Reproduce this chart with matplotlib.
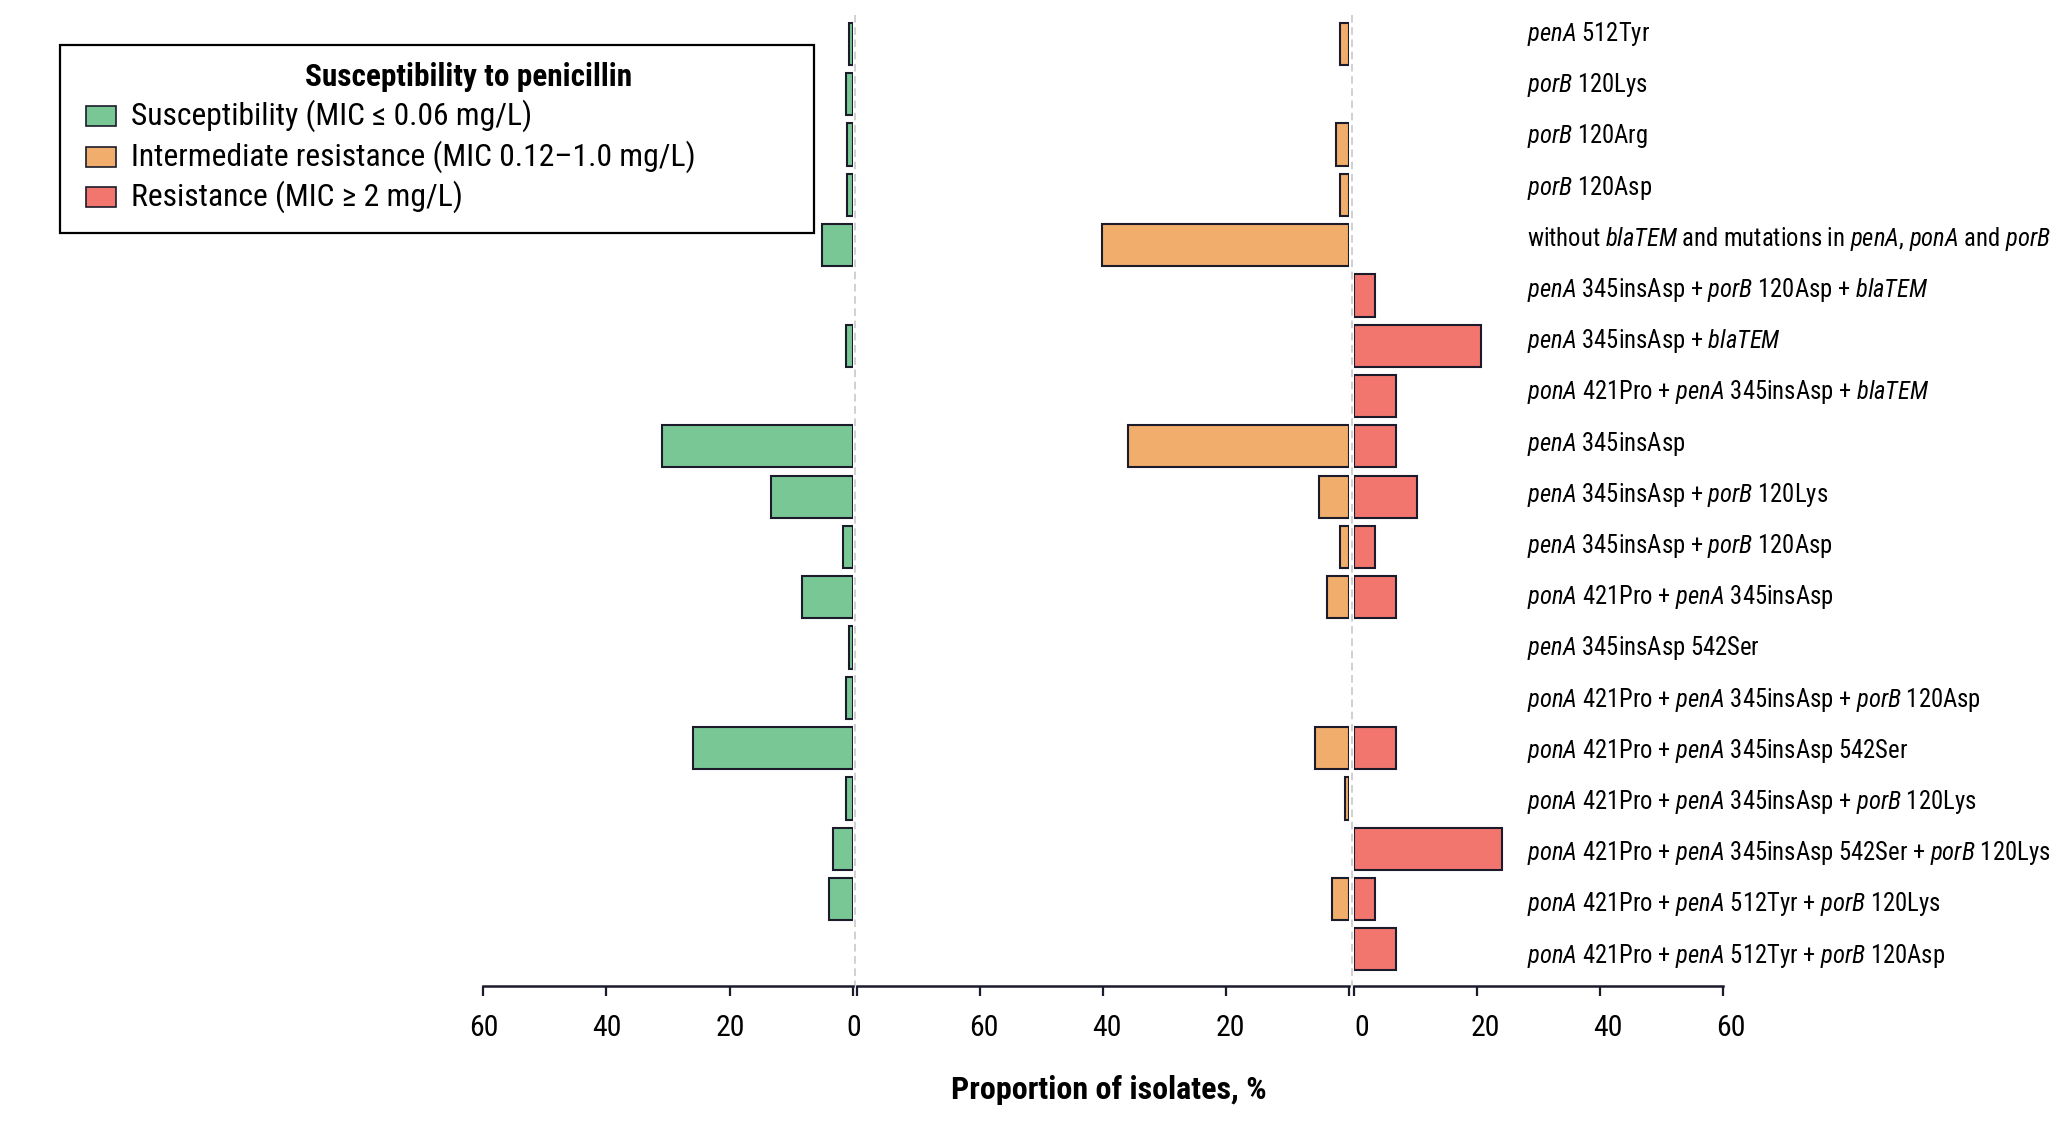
"""Penicillin susceptibility by resistance-determinant profile, three panels."""

import numpy as np
import matplotlib
matplotlib.use("Agg")
import matplotlib.pyplot as plt
from matplotlib import font_manager
from matplotlib.patches import Rectangle
from matplotlib.transforms import ScaledTranslation, blended_transform_factory

# --------------------------------------------------------------------------- #
# Data
# --------------------------------------------------------------------------- #
PROFILES = [
    r"$\mathit{penA}$ 512Tyr",
    r"$\mathit{porB}$ 120Lys",
    r"$\mathit{porB}$ 120Arg",
    r"$\mathit{porB}$ 120Asp",
    r"without $\mathit{blaTEM}$ and mutations in $\mathit{penA}$, $\mathit{ponA}$ and $\mathit{porB}$",
    r"$\mathit{penA}$ 345insAsp + $\mathit{porB}$ 120Asp + $\mathit{blaTEM}$",
    r"$\mathit{penA}$ 345insAsp + $\mathit{blaTEM}$",
    r"$\mathit{ponA}$ 421Pro + $\mathit{penA}$ 345insAsp + $\mathit{blaTEM}$",
    r"$\mathit{penA}$ 345insAsp",
    r"$\mathit{penA}$ 345insAsp + $\mathit{porB}$ 120Lys",
    r"$\mathit{penA}$ 345insAsp + $\mathit{porB}$ 120Asp",
    r"$\mathit{ponA}$ 421Pro + $\mathit{penA}$ 345insAsp",
    r"$\mathit{penA}$ 345insAsp 542Ser",
    r"$\mathit{ponA}$ 421Pro + $\mathit{penA}$ 345insAsp + $\mathit{porB}$ 120Asp",
    r"$\mathit{ponA}$ 421Pro + $\mathit{penA}$ 345insAsp 542Ser",
    r"$\mathit{ponA}$ 421Pro + $\mathit{penA}$ 345insAsp + $\mathit{porB}$ 120Lys",
    r"$\mathit{ponA}$ 421Pro + $\mathit{penA}$ 345insAsp 542Ser + $\mathit{porB}$ 120Lys",
    r"$\mathit{ponA}$ 421Pro + $\mathit{penA}$ 512Tyr + $\mathit{porB}$ 120Lys",
    r"$\mathit{ponA}$ 421Pro + $\mathit{penA}$ 512Tyr + $\mathit{porB}$ 120Asp",
]

# proportion of isolates, %
SUSCEPTIBLE = [0.6, 1.2, 0.9, 0.9, 5.0, 0, 1.2, 0, 30.9, 13.3, 1.7, 8.3,
               0.6, 1.2, 26.0, 1.2, 3.3, 3.9, 0]
INTERMEDIATE = [1.4, 0, 2.1, 1.4, 40.1, 0, 0, 0, 35.9, 4.9, 1.4, 3.5,
                0, 0, 5.6, 0.7, 0, 2.8, 0]
RESISTANT = [0, 0, 0, 0, 0, 3.4, 20.7, 6.9, 6.9, 10.3, 3.4, 6.9,
             0, 0, 6.9, 0, 24.1, 3.4, 6.9]

LEGEND_TITLE = "Susceptibility to penicillin"
LEGEND_LABELS = [
    "Susceptibility (MIC \u2264 0.06 mg/L)",
    "Intermediate resistance (MIC 0.12\u20131.0 mg/L)",
    "Resistance (MIC \u2265 2 mg/L)",
]
COLORS = ["#79c794", "#f0ad6b", "#f2756e"]
EDGE = "#1b1b2b"

# --------------------------------------------------------------------------- #
# Fonts: the reference uses a narrow sans; take the narrowest one available
# --------------------------------------------------------------------------- #
entries = font_manager.fontManager.ttflist
names = {f.name for f in entries}
BASE, STRETCH, SCALE = None, "normal", 1.0
for cand in ["Liberation Sans Narrow", "Arial Narrow", "Roboto Condensed",
             "Open Sans Condensed", "Noto Sans Condensed", "DejaVu Sans Condensed"]:
    if cand in names:
        BASE = cand
        break
if BASE is None:
    narrow = sorted(n for n in names if "Narrow" in n or "Condensed" in n)
    if narrow:
        BASE = narrow[0]
if BASE is None:
    cond = [f for f in entries if f.name == "DejaVu Sans"
            and str(f.stretch) in ("condensed", "semi-condensed", "600", "700")]
    if cond:
        BASE, STRETCH, SCALE = "DejaVu Sans", "condensed", 0.95
if BASE is None:
    BASE, SCALE = "Liberation Sans", 0.9

plt.rcParams["font.family"] = [BASE, "DejaVu Sans"]
plt.rcParams["font.stretch"] = STRETCH
plt.rcParams["mathtext.fontset"] = "custom"
suffix = "" if STRETCH == "normal" else ":stretch=" + STRETCH
plt.rcParams["mathtext.rm"] = BASE + suffix
plt.rcParams["mathtext.it"] = BASE + ":italic" + suffix
plt.rcParams["mathtext.bf"] = BASE + ":bold" + suffix

FS_TICK = 21.5 * SCALE
FS_ROW = 17.7 * SCALE
FS_LEG = 22.8 * SCALE
FS_TITLE = 22.5 * SCALE
FS_XLAB = 23 * SCALE

W, H = 2067, 1126
fig = plt.figure(figsize=(W / 100, H / 100), dpi=100)


def fx(px):
    return px / W


def fy(px):
    return (H - px) / H


# --------------------------------------------------------------------------- #
# Panels
# --------------------------------------------------------------------------- #
bottom = fy(986)
height = 1.0 - bottom
ylim = (18.73, -0.875)
rows = np.arange(len(PROFILES))

panels = [
    # (left px, right px, xlim, ticks, tick labels, values, label shift px)
    (483, 853, (60, 0), [60, 40, 20, 0], ["60", "40", "20", "0"], SUSCEPTIBLE, 1),
    (857, 1349, (80, 0), [80, 60, 40, 20, 0], ["", "60", "40", "20", ""], INTERMEDIATE, 4),
    (1354, 1723, (0, 60), [0, 20, 40, 60], ["0", "20", "40", "60"], RESISTANT, 8),
]

axes = []
for left, right, xlim, ticks, tlabels, vals, shift in panels:
    ax = fig.add_axes([fx(left), bottom, fx(right - left), height])
    vals = np.asarray(vals, dtype=float)
    keep = vals > 0
    ax.barh(rows[keep], vals[keep], height=0.84, color=COLORS[len(axes)],
            edgecolor=EDGE, linewidth=1.5, zorder=3)
    ax.set_xlim(*xlim)
    ax.set_ylim(*ylim)
    ax.set_xticks(ticks)
    ax.set_xticklabels(tlabels, fontsize=FS_TICK)
    ax.set_yticks([])
    for s in ("top", "left", "right"):
        ax.spines[s].set_visible(False)
    ax.spines["bottom"].set_bounds(min(ticks), max(ticks))
    ax.spines["bottom"].set_linewidth(1.8)
    ax.spines["bottom"].set_color(EDGE)
    ax.tick_params(axis="x", length=7.5, width=1.6, color=EDGE, pad=13,
                   labelcolor="black")
    for lab in ax.get_xticklabels():
        lab.set_transform(lab.get_transform()
                          + ScaledTranslation(shift / 100, 0, fig.dpi_scale_trans))
    ax.patch.set_alpha(0)
    axes.append(ax)

# dashed zero guides
axes[0].vlines(-0.3, -0.57, ylim[0], colors="#c4c4c4", linestyles=(0, (5, 3)),
               linewidth=1.1, clip_on=False, zorder=1)
axes[2].vlines(-0.3, -0.57, ylim[0], colors="#c4c4c4", linestyles=(0, (5, 3)),
               linewidth=1.1, clip_on=False, zorder=1)

# row labels on the right
trans = blended_transform_factory(fig.transFigure, axes[2].transData)
for r, lab in enumerate(PROFILES):
    axes[2].text(fx(1527), r * 1.018 - 0.2, lab, transform=trans, fontsize=FS_ROW,
                 ha="left", va="center", clip_on=False)

fig.text(fx(1109), fy(1090), "Proportion of isolates, %", fontsize=FS_XLAB,
         fontweight="bold", ha="center", va="center")

# --------------------------------------------------------------------------- #
# Legend
# --------------------------------------------------------------------------- #
fig.patches.append(Rectangle((fx(60), fy(233)), fx(814 - 60), (233 - 45) / H,
                             transform=fig.transFigure, facecolor="white",
                             edgecolor="black", linewidth=1.6, zorder=5))
fig.text(fx(469), fy(77), LEGEND_TITLE, fontsize=FS_TITLE, fontweight="bold",
         ha="center", va="center", zorder=6)
for i, (lab, col) in enumerate(zip(LEGEND_LABELS, COLORS)):
    yc = 116 + 40.5 * i
    fig.patches.append(Rectangle((fx(86), fy(yc + 10)), fx(30), 20 / H,
                                 transform=fig.transFigure, facecolor=col,
                                 edgecolor=EDGE, linewidth=1.2, zorder=6))
    fig.text(fx(131), fy(yc), lab, fontsize=FS_LEG, ha="left", va="center", zorder=6)

fig.savefig("out.png", dpi=100)
